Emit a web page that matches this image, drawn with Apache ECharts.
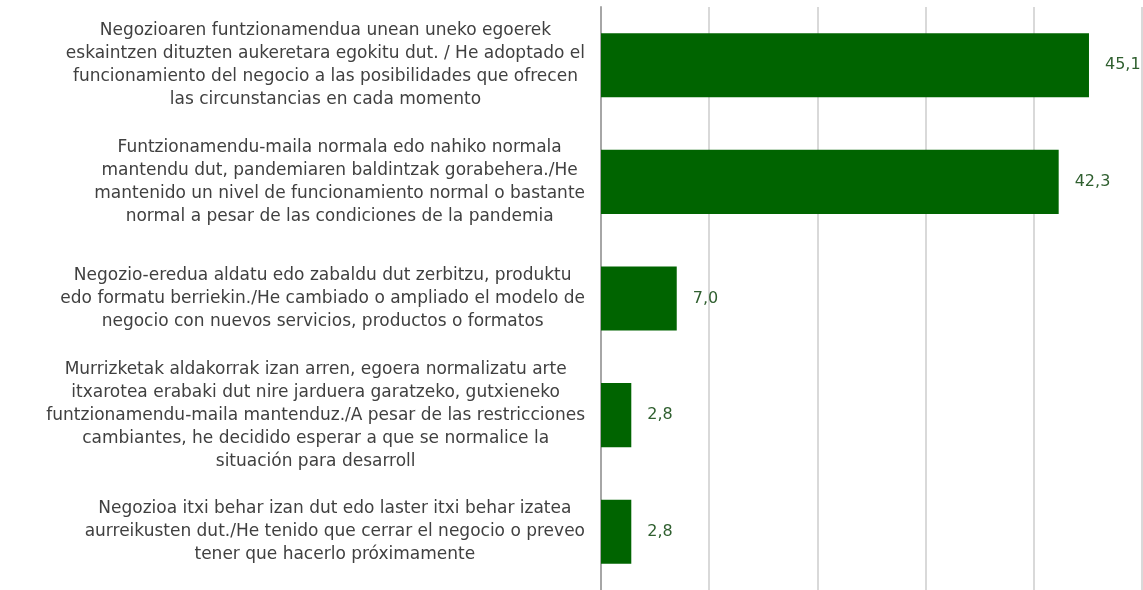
<!DOCTYPE html>
<html>
<head>
<meta charset="utf-8">
<script src="https://cdn.jsdelivr.net/npm/echarts@6/dist/echarts.min.js"></script>
<style>
  html, body { margin: 0; padding: 0; background: #fff; }
  #main { width: 1143px; height: 590px; }
</style>
</head>
<body>
<div id="main"></div>
<script>
// categories (top to bottom), with line breaks as in the source chart
var categories = [
  'Negozioaren funtzionamendua unean uneko egoerek\neskaintzen dituzten aukeretara egokitu dut. / He adoptado el\nfuncionamiento del negocio a las posibilidades que ofrecen\nlas circunstancias en cada momento',
  'Funtzionamendu-maila normala edo nahiko normala\nmantendu dut, pandemiaren baldintzak gorabehera./He\nmantenido un nivel de funcionamiento normal o bastante\nnormal a pesar de las condiciones de la pandemia',
  'Negozio-eredua aldatu edo zabaldu dut zerbitzu, produktu\nedo formatu berriekin./He cambiado o ampliado el modelo de\nnegocio con nuevos servicios, productos o formatos',
  'Murrizketak aldakorrak izan arren, egoera normalizatu arte\nitxarotea erabaki dut nire jarduera garatzeko, gutxieneko\nfuntzionamendu-maila mantenduz./A pesar de las restricciones\ncambiantes, he decidido esperar a que se normalice la\nsituación para desarroll',
  'Negozioa itxi behar izan dut edo laster itxi behar izatea\naurreikusten dut./He tenido que cerrar el negocio o preveo\ntener que hacerlo próximamente'
];
var values = [45.1, 42.3, 7.0, 2.8, 2.8];

var myChart = echarts.init(document.getElementById('main'));

myChart.setOption({
  animation: false,
  grid: { left: 601, right: 1, top: 7, bottom: 0 },
  xAxis: {
    type: 'value',
    min: 0,
    max: 50,
    interval: 10,
    axisLabel: { show: false },
    axisLine: { show: false },
    axisTick: { show: false },
    splitLine: { lineStyle: { color: '#d9d9d9', width: 2 } }
  },
  yAxis: {
    type: 'category',
    inverse: true,
    data: categories,
    axisLine: { lineStyle: { color: '#a6a6a6', width: 2 } },
    axisTick: { show: false },
    axisLabel: {
      align: 'right',
      margin: 16,
      // lines centred inside a right-aligned block, like the original
      formatter: function (v) {
        return v.split('\n').map(function (s) { return '{c|' + s + '}'; }).join('\n');
      },
      rich: {
        c: {
          align: 'center',
          color: '#404040',
          fontFamily: 'DejaVu Sans',
          fontSize: 17,
          lineHeight: 23
        }
      }
    }
  },
  series: [{
    type: 'bar',
    data: values,
    barWidth: '55%',
    itemStyle: { color: '#006400' },
    label: {
      show: true,
      position: 'right',
      distance: 16,
      color: '#2f5f2f',
      fontFamily: 'DejaVu Sans',
      fontSize: 16,
      formatter: function (p) { return p.value.toFixed(1).replace('.', ','); }
    }
  }]
});
</script>
</body>
</html>
